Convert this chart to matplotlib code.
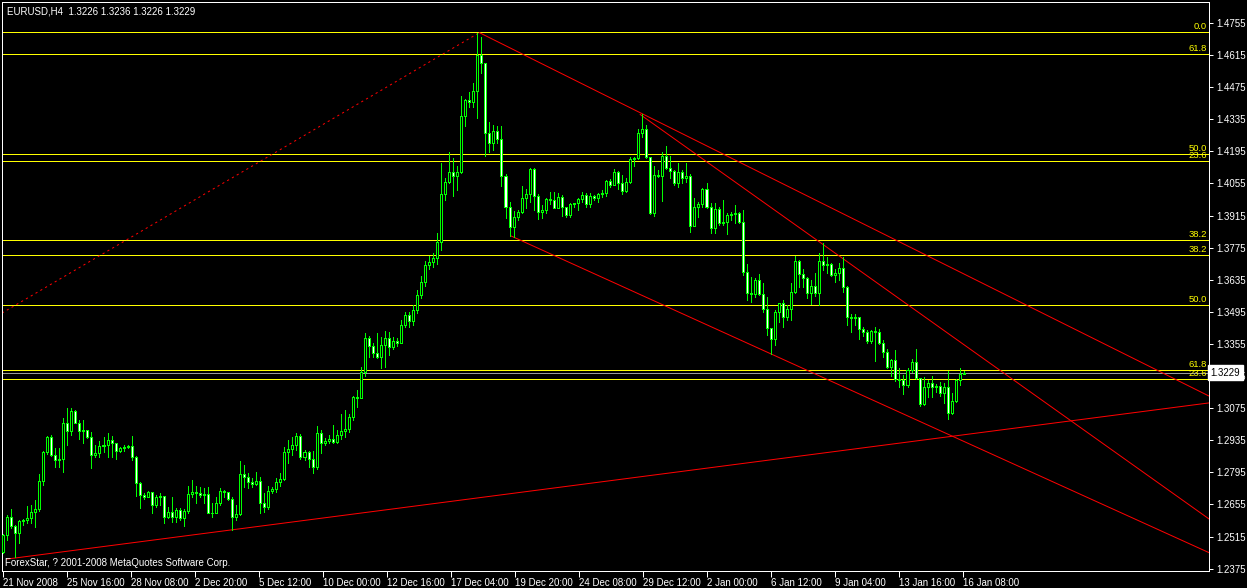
import numpy as np
import matplotlib
matplotlib.use("Agg")
import matplotlib.pyplot as plt
import matplotlib.transforms as mtransforms

plt.rcParams['font.family'] = ['Liberation Sans', 'DejaVu Sans']
plt.rcParams['lines.scale_dashes'] = False

# ---------------- data ----------------
symbol_title = "EURUSD,H4  1.3226 1.3236 1.3226 1.3229"
copyright_text = "ForexStar, ? 2001-2008 MetaQuotes Software Corp."
first_open = 1.2449
last_price = 1.3229

closes = [
    1.2522, 1.2602, 1.2561, 1.2532, 1.2582, 1.2587, 1.2595, 1.2621, 1.2634, 1.2756,
    1.2884, 1.2948, 1.2871, 1.2849, 1.2852, 1.3009, 1.2977, 1.3061, 1.3012, 1.2977,
    1.2980, 1.2951, 1.2872, 1.2878, 1.2910, 1.2913, 1.2936, 1.2922, 1.2890, 1.2900,
    1.2904, 1.2910, 1.2861, 1.2747, 1.2696, 1.2689, 1.2710, 1.2651, 1.2686, 1.2692,
    1.2599, 1.2622, 1.2602, 1.2631, 1.2595, 1.2627, 1.2699, 1.2710, 1.2707, 1.2695,
    1.2699, 1.2619, 1.2617, 1.2660, 1.2714, 1.2710, 1.2678, 1.2599, 1.2612, 1.2787,
    1.2773, 1.2753, 1.2744, 1.2757, 1.2660, 1.2645, 1.2714, 1.2724, 1.2752, 1.2765,
    1.2884, 1.2896, 1.2914, 1.2954, 1.2861, 1.2884, 1.2855, 1.2820, 1.2965, 1.2922,
    1.2932, 1.2939, 1.2928, 1.2958, 1.2975, 1.2985, 1.3038, 1.3125, 1.3121, 1.3234,
    1.3380, 1.3346, 1.3317, 1.3297, 1.3351, 1.3380, 1.3343, 1.3368, 1.3361, 1.3436,
    1.3481, 1.3457, 1.3503, 1.3569, 1.3625, 1.3700, 1.3713, 1.3730, 1.3801, 1.4009,
    1.4063, 1.4107, 1.4089, 1.4104, 1.4351, 1.4419, 1.4412, 1.4457, 1.4615, 1.4579,
    1.4277, 1.4233, 1.4284, 1.4249, 1.4089, 1.3951, 1.3867, 1.3907, 1.3932, 1.3990,
    1.4009, 1.4118, 1.4000, 1.3932, 1.3940, 1.3986, 1.3983, 1.3950, 1.3995, 1.3954,
    1.3918, 1.3964, 1.3968, 1.3987, 1.4005, 1.3964, 1.4002, 1.3990, 1.4008, 1.4012,
    1.4066, 1.4047, 1.4104, 1.4059, 1.4024, 1.4063, 1.4160, 1.4165, 1.4277, 1.4291,
    1.4169, 1.3925, 1.4092, 1.4089, 1.4175, 1.4121, 1.4111, 1.4056, 1.4104, 1.4078,
    1.4088, 1.3871, 1.3951, 1.3964, 1.4030, 1.3954, 1.3862, 1.3942, 1.3884, 1.3887,
    1.3916, 1.3921, 1.3925, 1.3889, 1.3670, 1.3576, 1.3573, 1.3634, 1.3573, 1.3506,
    1.3426, 1.3377, 1.3493, 1.3532, 1.3474, 1.3508, 1.3580, 1.3717, 1.3659, 1.3641,
    1.3576, 1.3608, 1.3579, 1.3717, 1.3698, 1.3702, 1.3656, 1.3666, 1.3685, 1.3602,
    1.3471, 1.3467, 1.3471, 1.3419, 1.3407, 1.3370, 1.3410, 1.3406, 1.3358, 1.3322,
    1.3253, 1.3285, 1.3201, 1.3198, 1.3176, 1.3242, 1.3275, 1.3205, 1.3092, 1.3166,
    1.3186, 1.3169, 1.3172, 1.3143, 1.3166, 1.3056, 1.3108, 1.3198, 1.3224, 1.3229,
]

highs = [
    1.2526, 1.2609, 1.2634, 1.2564, 1.2587, 1.2593, 1.2648, 1.2653, 1.2675, 1.2788,
    1.2890, 1.2954, 1.2958, 1.2900, 1.2900, 1.3031, 1.3074, 1.3074, 1.3067, 1.3024,
    1.3024, 1.2980, 1.2973, 1.2915, 1.2932, 1.2951, 1.2965, 1.2954, 1.2925, 1.2907,
    1.2913, 1.2915, 1.2954, 1.2867, 1.2755, 1.2707, 1.2714, 1.2707, 1.2696, 1.2704,
    1.2667, 1.2646, 1.2689, 1.2638, 1.2638, 1.2634, 1.2736, 1.2762, 1.2736, 1.2730,
    1.2725, 1.2733, 1.2663, 1.2689, 1.2725, 1.2718, 1.2711, 1.2689, 1.2653, 1.2846,
    1.2827, 1.2791, 1.2769, 1.2797, 1.2776, 1.2707, 1.2736, 1.2733, 1.2769, 1.2791,
    1.2907, 1.2936, 1.2951, 1.2965, 1.2961, 1.2893, 1.2890, 1.2890, 1.2997, 1.2980,
    1.2944, 1.2958, 1.3002, 1.2980, 1.3050, 1.3067, 1.3050, 1.3128, 1.3154, 1.3256,
    1.3401, 1.3390, 1.3361, 1.3401, 1.3384, 1.3412, 1.3406, 1.3384, 1.3380, 1.3460,
    1.3493, 1.3493, 1.3525, 1.3590, 1.3650, 1.3715, 1.3740, 1.3750, 1.3838, 1.4143,
    1.4077, 1.4194, 1.4165, 1.4131, 1.4437, 1.4424, 1.4455, 1.4495, 1.4713, 1.4695,
    1.4575, 1.4325, 1.4310, 1.4306, 1.4306, 1.4096, 1.3976, 1.3936, 1.3940, 1.4044,
    1.4030, 1.4124, 1.4124, 1.4009, 1.3961, 1.3990, 1.4019, 1.4016, 1.4012, 1.4005,
    1.3954, 1.3971, 1.3972, 1.3993, 1.4019, 1.4012, 1.4012, 1.4005, 1.4012, 1.4027,
    1.4070, 1.4073, 1.4118, 1.4109, 1.4092, 1.4078, 1.4172, 1.4172, 1.4291, 1.4357,
    1.4310, 1.4165, 1.4131, 1.4114, 1.4194, 1.4219, 1.4175, 1.4114, 1.4143, 1.4114,
    1.4143, 1.4096, 1.3990, 1.3976, 1.4034, 1.4056, 1.3969, 1.3969, 1.3951, 1.3983,
    1.3928, 1.3932, 1.3961, 1.3932, 1.3939, 1.3704, 1.3649, 1.3641, 1.3660, 1.3620,
    1.3559, 1.3426, 1.3503, 1.3535, 1.3547, 1.3525, 1.3622, 1.3739, 1.3721, 1.3681,
    1.3649, 1.3634, 1.3663, 1.3750, 1.3797, 1.3736, 1.3707, 1.3681, 1.3707, 1.3736,
    1.3608, 1.3486, 1.3486, 1.3474, 1.3431, 1.3416, 1.3416, 1.3431, 1.3419, 1.3372,
    1.3332, 1.3288, 1.3329, 1.3249, 1.3220, 1.3249, 1.3288, 1.3333, 1.3208, 1.3212,
    1.3198, 1.3215, 1.3180, 1.3191, 1.3183, 1.3239, 1.3140, 1.3201, 1.3249, 1.3236,
]

lows = [
    1.2442, 1.2500, 1.2551, 1.2427, 1.2486, 1.2566, 1.2573, 1.2576, 1.2558, 1.2628,
    1.2740, 1.2875, 1.2867, 1.2817, 1.2820, 1.2798, 1.2915, 1.2958, 1.3009, 1.2939,
    1.2922, 1.2944, 1.2813, 1.2861, 1.2864, 1.2885, 1.2864, 1.2864, 1.2855, 1.2885,
    1.2890, 1.2900, 1.2849, 1.2692, 1.2638, 1.2680, 1.2701, 1.2617, 1.2646, 1.2653,
    1.2576, 1.2595, 1.2580, 1.2580, 1.2587, 1.2561, 1.2619, 1.2686, 1.2660, 1.2689,
    1.2660, 1.2617, 1.2599, 1.2619, 1.2653, 1.2689, 1.2675, 1.2544, 1.2587, 1.2609,
    1.2733, 1.2725, 1.2733, 1.2739, 1.2619, 1.2624, 1.2634, 1.2704, 1.2711, 1.2736,
    1.2762, 1.2835, 1.2871, 1.2893, 1.2853, 1.2849, 1.2820, 1.2794, 1.2808, 1.2881,
    1.2915, 1.2922, 1.2922, 1.2925, 1.2940, 1.2950, 1.2970, 1.3024, 1.3079, 1.3118,
    1.3215, 1.3300, 1.3300, 1.3292, 1.3249, 1.3256, 1.3307, 1.3332, 1.3346, 1.3358,
    1.3428, 1.3428, 1.3440, 1.3490, 1.3555, 1.3610, 1.3680, 1.3690, 1.3705, 1.3765,
    1.3983, 1.4059, 1.4000, 1.4027, 1.4099, 1.4306, 1.4390, 1.4387, 1.4342, 1.4535,
    1.4175, 1.4194, 1.4201, 1.4233, 1.4046, 1.3903, 1.3826, 1.3823, 1.3896, 1.3925,
    1.3947, 1.3976, 1.3940, 1.3899, 1.3906, 1.3928, 1.3966, 1.3947, 1.3947, 1.3913,
    1.3910, 1.3910, 1.3954, 1.3940, 1.3976, 1.3951, 1.3951, 1.3981, 1.3976, 1.3998,
    1.4002, 1.4041, 1.4059, 1.4030, 1.4009, 1.4019, 1.4059, 1.4133, 1.4160, 1.4256,
    1.4165, 1.3921, 1.3913, 1.4085, 1.3980, 1.4117, 1.4078, 1.4048, 1.4041, 1.4056,
    1.4063, 1.3845, 1.3870, 1.3910, 1.3954, 1.3947, 1.3841, 1.3838, 1.3874, 1.3874,
    1.3835, 1.3896, 1.3884, 1.3884, 1.3656, 1.3547, 1.3540, 1.3561, 1.3569, 1.3496,
    1.3394, 1.3311, 1.3351, 1.3452, 1.3428, 1.3460, 1.3460, 1.3576, 1.3602, 1.3602,
    1.3554, 1.3530, 1.3564, 1.3525, 1.3678, 1.3663, 1.3651, 1.3627, 1.3634, 1.3583,
    1.3438, 1.3409, 1.3438, 1.3375, 1.3390, 1.3361, 1.3358, 1.3282, 1.3355, 1.3297,
    1.3249, 1.3217, 1.3195, 1.3166, 1.3135, 1.3169, 1.3234, 1.3201, 1.3086, 1.3089,
    1.3125, 1.3125, 1.3147, 1.3128, 1.3096, 1.3026, 1.3050, 1.3103, 1.3176, 1.3226,
]

# Fibonacci levels (price, label)
fib_prices = [1.4714, 1.4620, 1.4182, 1.4152, 1.3809, 1.3743, 1.3524, 1.3240, 1.3201]
fib_labels = ["0.0", "61.8", "50.0", "23.6", "38.2", "38.2", "50.0", "61.8", "23.6"]

# trend lines: ((bar, price), (bar, price))
dotted_line = ((-0.25, 1.3490), (118.5, 1.4713))
trend_lines = [
    ((118.5, 1.4713), (300.0, 1.3128)),
    ((158.5, 1.4356), (300.0, 1.2592)),
    ((126.4, 1.3826), (300.0, 1.2445)),
    ((1.0, 1.2417), (300.0, 1.3098)),
]

price_ticks = [1.4755, 1.4615, 1.4475, 1.4335, 1.4195, 1.4055, 1.3915, 1.3775,
               1.3635, 1.3495, 1.3355, 1.3215, 1.3075, 1.2935, 1.2795, 1.2655,
               1.2515, 1.2375]
time_labels = ["21 Nov 2008", "25 Nov 16:00", "28 Nov 08:00", "2 Dec 20:00",
               "5 Dec 12:00", "10 Dec 00:00", "12 Dec 16:00", "17 Dec 04:00",
               "19 Dec 20:00", "24 Dec 08:00", "29 Dec 12:00", "2 Jan 00:00",
               "6 Jan 12:00", "9 Jan 04:00", "13 Jan 16:00", "16 Jan 08:00"]
bars_per_label = 15.92

# ---------------- figure ----------------
W, H = 1247, 588
fig = plt.figure(figsize=(W / 100, H / 100), dpi=100, facecolor='black')
ax = fig.add_axes([2 / W, 17 / H, 1207 / W, 569 / H], facecolor='black')
ax.set_xlim(-0.25, 300.0)
ax.set_ylim(1.23649, 1.48466)

LIME = '#00FF00'
YEL = '#FFFF00'
RED = '#FF0000'
PX = 0.72  # 1 pixel in points

n = min(len(closes), len(highs), len(lows))
c = np.array(closes[:n])
o = np.concatenate([[first_open], c[:-1]])
h = np.maximum(np.array(highs[:n]), np.maximum(o, c))
l = np.minimum(np.array(lows[:n]), np.minimum(o, c))
x = np.arange(n)

# fib levels
for p, lab in zip(fib_prices, fib_labels):
    ax.axhline(p, color=YEL, lw=PX, antialiased=False, zorder=1)
    ax.text(0.9985, p + 0.0004, lab, transform=mtransforms.blended_transform_factory(ax.transAxes, ax.transData),
            ha='right', va='bottom', color=YEL, fontsize=6.8, zorder=2)

# bid line
ax.axhline(last_price, color='#9a9a9a', lw=PX, antialiased=False, zorder=1)

# trend lines
(x0, y0), (x1, y1) = dotted_line
ax.plot([x0, x1], [y0, y1], color=RED, lw=PX, linestyle=(0, (1.6, 2.4)), zorder=2)
for (xa, ya), (xb, yb) in trend_lines:
    ax.plot([xa, xb], [ya, yb], color=RED, lw=PX, zorder=2)

# candles
ax.vlines(x, l, h, color=LIME, lw=PX, antialiased=False, zorder=3)
up = c >= o
body_bottom = np.minimum(o, c)
body_h = np.maximum(np.abs(c - o), 1e-6)
face = np.where(up, 'black', 'white')
ax.bar(x, body_h, bottom=body_bottom, width=0.5, color=face, edgecolor=LIME,
       linewidth=PX, antialiased=False, zorder=4)

# axes styling
for s in ax.spines.values():
    s.set_color('white')
    s.set_linewidth(PX)
ax.yaxis.tick_right()
ax.set_yticks(price_ticks)
ax.set_yticklabels([f"{v:.4f}" for v in price_ticks])
ax.tick_params(axis='y', colors='white', labelcolor='white', labelsize=7, length=3,
               width=PX, pad=2, direction='out')
tick_pos = np.arange(len(time_labels)) * bars_per_label
ax.set_xticks(tick_pos)
ax.set_xticklabels(time_labels)
for t in ax.get_xticklabels():
    t.set_ha('left')
ax.tick_params(axis='x', colors='white', labelcolor='white', labelsize=7, length=4,
               width=PX, pad=1, direction='out')

# title and copyright
ax.text(0.0042, 0.984, symbol_title, transform=ax.transAxes, ha='left', va='center',
        color='white', fontsize=7, zorder=6)
ax.text(0.0025, 0.0135, copyright_text, transform=ax.transAxes, ha='left', va='center',
        color='white', fontsize=7, zorder=6)

# current price box
ax.text(1.0012, last_price, f"{last_price:.4f}",
        transform=mtransforms.blended_transform_factory(ax.transAxes, ax.transData),
        ha='left', va='center', color='black', fontsize=7, zorder=7, clip_on=False,
        bbox=dict(boxstyle='square,pad=0.25', fc='white', ec='white'))

fig.savefig('out.png', dpi=100, facecolor='black')
